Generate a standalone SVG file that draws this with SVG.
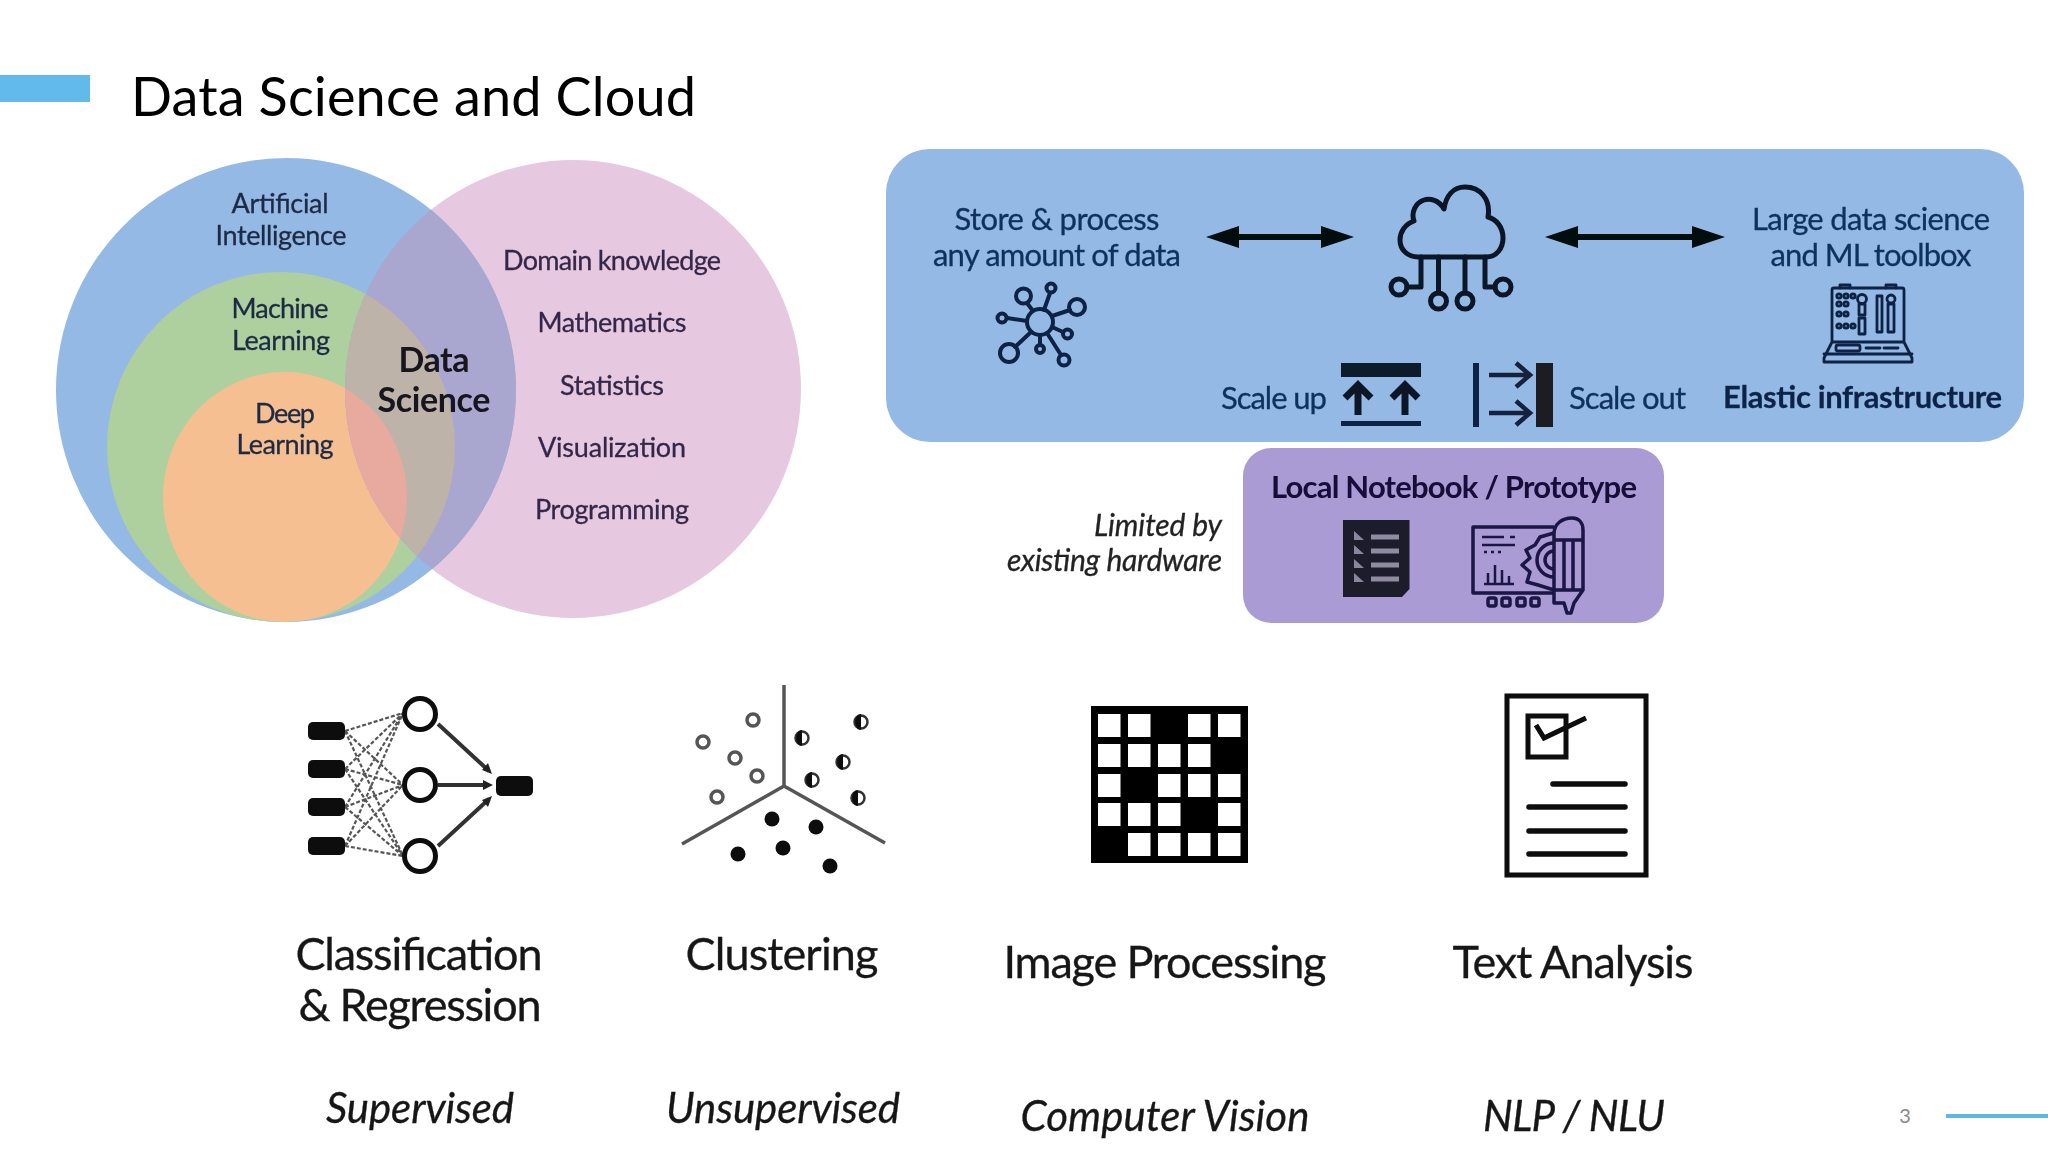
<svg xmlns="http://www.w3.org/2000/svg" width="2048" height="1152" viewBox="0 0 2048 1152">
<style>
text{font-family:"Lato","Liberation Sans",sans-serif}
.c{text-anchor:middle}
.v{font-size:27px;fill:#1c2a44;stroke:#1c2a44;stroke-width:.3px}
.vp{font-size:27px;fill:#35284a;stroke:#35284a;stroke-width:.3px}
.p{font-size:31px;fill:#11305c;stroke:#11305c;stroke-width:.3px}
.b{font-weight:700}
.l{font-size:45px;fill:#161616;stroke:#161616;stroke-width:.3px;text-anchor:middle}
.i{font-size:42px;font-style:italic;fill:#161616;stroke:#161616;stroke-width:.3px;text-anchor:middle}
.ik{fill:none;stroke:#0c2244;stroke-width:4;stroke-linecap:round;stroke-linejoin:round}
.pk{fill:none;stroke:#1a1646;stroke-width:3.500;stroke-linejoin:round}
.nn{stroke:#555;stroke-width:2.200;stroke-dasharray:4 2;fill:none}
.na{stroke:#333;stroke-width:4;fill:none}
.open{fill:#fff;stroke:#555;stroke-width:3.500}
.half{fill:#fff;stroke:#333;stroke-width:2.500}
.cell{fill:#fff}
.dl{stroke:#05070f;stroke-width:6;stroke-linecap:round;fill:none}
</style>
<defs>
<filter id="soft" x="0" y="0" width="2048" height="1152" filterUnits="userSpaceOnUse"><feGaussianBlur stdDeviation="0.650"/></filter>
<marker id="head" markerUnits="userSpaceOnUse" markerWidth="34" markerHeight="26" refX="1" refY="13" orient="auto-start-reverse"><path d="M0 2L33 13L0 24Z" fill="#05070f"/></marker>
<clipPath id="pinkClip"><ellipse cx="573" cy="389" rx="228" ry="229"/></clipPath>
<path id="half" d="M0-8A6 8 0 0 0 0 8Z" fill="#111"/>
</defs>
<rect width="2048" height="1152" fill="#fff"/>

<g id="title">
<rect x="0" y="75" width="90" height="27" fill="#62b9ec"/>
<text x="131" y="116" font-size="54" fill="#000" textLength="565">Data Science and Cloud</text>
</g>

<g id="content" filter="url(#soft)">
<g id="venn">
<ellipse cx="573" cy="389" rx="228" ry="229" fill="#e6c9e0"/>
<ellipse cx="286" cy="390" rx="230" ry="232" fill="#94b9e4"/>
<ellipse cx="281" cy="447" rx="174" ry="175" fill="#aed09e"/>
<ellipse cx="285" cy="497" rx="122" ry="125" fill="#f6bf92"/>
<g clip-path="url(#pinkClip)">
<ellipse cx="286" cy="390" rx="230" ry="232" fill="#a9a6cf"/>
<ellipse cx="281" cy="447" rx="174" ry="175" fill="#bdb3a8"/>
<ellipse cx="285" cy="497" rx="122" ry="125" fill="#e8a99e"/>
</g>
<text class="v c" x="280" y="213" textLength="97">Artificial</text>
<text class="v c" x="281" y="245" textLength="131">Intelligence</text>
<text class="v c" x="280" y="318" textLength="97">Machine</text>
<text class="v c" x="281" y="350" textLength="98">Learning</text>
<text class="v c" x="285" y="423" textLength="60">Deep</text>
<text class="v c" x="285" y="454" textLength="97">Learning</text>
<text class="c b" x="434" y="372" font-size="34" fill="#14141f" textLength="71">Data</text>
<text class="c b" x="434" y="412" font-size="34" fill="#14141f" textLength="113">Science</text>
<text class="vp c" x="612" y="270" textLength="218">Domain knowledge</text>
<text class="vp c" x="612" y="332" textLength="149">Mathematics</text>
<text class="vp c" x="612" y="395" textLength="104">Statistics</text>
<text class="vp c" x="612" y="457" textLength="148">Visualization</text>
<text class="vp c" x="612" y="519" textLength="154">Programming</text>
</g>

<g id="cloud-panel">
<rect x="886" y="149" width="1138" height="293" rx="44" fill="#94b9e4"/>
</g>

<g id="store">
<text class="p c" x="1057" y="230" textLength="205">Store &amp; process</text>
<text class="p c" x="1057" y="266" textLength="248">any amount of data</text>
<g class="ik">
<circle cx="1040" cy="322" r="13"/>
<circle cx="1023.500" cy="296" r="7.500"/><circle cx="1051" cy="288" r="4.500"/><circle cx="1077" cy="307" r="8"/>
<circle cx="1002" cy="318" r="4.500"/><circle cx="1067.500" cy="334" r="4.500"/><circle cx="1009" cy="353" r="9"/>
<circle cx="1040" cy="349" r="4"/><circle cx="1064" cy="360" r="5.500"/>
<path d="M1033 311L1027 303M1044 310L1050 293M1052 316L1070 310M1027 321L1007 318M1052 327L1063 332M1031 332L1015 347M1040 335V345M1047 333L1061 355"/>
</g>
</g>

<g id="cloud">
<g class="ik" style="stroke:#0a1628;stroke-width:5">
<path d="M1418 257H1486C1497 257 1503 248 1503 238C1503 227 1496 219 1488 217C1491 199 1480 187 1465 187C1453 187 1446 196 1444 209C1439 200 1430 198 1424 200C1415 203 1411 213 1414 221C1405 224 1400 232 1400 240C1400 250 1408 257 1418 257Z"/>
<path d="M1421 257V287H1407M1438.500 257V293M1465 257V293M1485 257V287H1495"/>
<circle cx="1399" cy="287" r="8"/><circle cx="1438.500" cy="301" r="8"/><circle cx="1465" cy="301" r="8"/><circle cx="1503" cy="287" r="8"/>
</g>
</g>

<g id="toolbox">
<text class="p c" x="1871" y="230" textLength="238">Large data science</text>
<text class="p c" x="1871" y="266" textLength="201">and ML toolbox</text>
<g class="ik" style="stroke-width:2.800">
<rect x="1832" y="288" width="72" height="54" rx="2"/>
<path d="M1840 288V285H1850V288M1886 288V285H1896V288M1832 342L1824 358V362H1912V358L1904 342M1824 354H1912"/>
<circle cx="1839" cy="296" r="2.200"/><circle cx="1846" cy="296" r="2.200"/><circle cx="1839" cy="304" r="2.200"/><circle cx="1846" cy="304" r="2.200"/>
<circle cx="1839" cy="314" r="2.200"/><circle cx="1846" cy="314" r="2.200"/><circle cx="1839" cy="326" r="2.200"/><circle cx="1846" cy="326" r="2.200"/><circle cx="1853" cy="296" r="2.200"/><circle cx="1853" cy="326" r="2.200"/>
<circle cx="1862" cy="299" r="4.500"/><rect x="1859" y="304" width="6" height="11"/><rect x="1859" y="318" width="6" height="16"/>
<rect x="1877" y="296" width="5" height="36"/><circle cx="1891" cy="299" r="4"/><rect x="1888" y="304" width="6" height="28"/>
<rect x="1836" y="345" width="24" height="6" rx="2"/><path d="M1866 348H1880M1884 348H1898"/>
</g>
</g>

<g id="scale-up">
<text class="p" x="1221" y="409" textLength="106">Scale up</text>
<rect x="1341" y="363" width="80" height="14" fill="#101a2a"/>
<rect x="1341" y="421" width="80" height="5" fill="#0c2244"/>
<path d="M1358 415V387M1345 398L1358 385L1371 398M1405 415V387M1392 398L1405 385L1418 398" fill="none" stroke="#0c1626" stroke-width="7"/>
</g>

<g id="scale-out">
<rect x="1473" y="363" width="6" height="64" fill="#0c2244"/>
<rect x="1536" y="363" width="17" height="64" fill="#1a1a22"/>
<path d="M1489 375H1529M1516 363L1530 375L1516 387M1489 413H1529M1516 401L1530 413L1516 425" fill="none" stroke="#12233c" stroke-width="4.500"/>
<text class="p" x="1569" y="409" textLength="117">Scale out</text>
</g>

<g id="elastic">
<text class="p b" x="1723" y="408" style="fill:#0b2247" textLength="279">Elastic infrastructure</text>
</g>

<g id="connectors">
<path d="M1238 237H1322" class="dl" marker-start="url(#head)" marker-end="url(#head)"/>
<path d="M1577 237H1693" class="dl" marker-start="url(#head)" marker-end="url(#head)"/>
</g>

<g id="local">
<text x="1222" y="536" font-size="30" font-style="italic" fill="#222" stroke="#222" stroke-width=".3" text-anchor="end" textLength="128">Limited by</text>
<text x="1222" y="571" font-size="30" font-style="italic" fill="#222" stroke="#222" stroke-width=".3" text-anchor="end" textLength="215">existing hardware</text>
<rect x="1243" y="448" width="421" height="175" rx="28" fill="#ab9bd4"/>
<text class="c b" x="1454" y="498" font-size="31" fill="#130a38" textLength="366">Local Notebook / Prototype</text>
<path d="M1343 520H1409.500V589L1402 597H1343Z" fill="#1d1b2a"/>
<path d="M1371 537H1399M1371 551H1399M1371 565H1399M1371 579H1399" stroke="#8f8ba0" stroke-width="5"/>
<path d="M1354 531L1364 540H1354ZM1354 545L1364 554H1354ZM1354 559L1364 568H1354ZM1354 573L1364 582H1354Z" fill="#8a86a0"/>
<g class="pk">
<path d="M1554 527H1473V593H1554"/>
<path d="M1482 537H1504M1510 537H1515M1482 545H1515" stroke-width="2.500"/>
<path d="M1484 552H1487M1491 552H1494M1498 552H1501" stroke-width="2.500"/>
<path d="M1484 584H1514M1488 584V573M1495 584V565M1502 584V570M1509 584V576" stroke-width="2.500"/>
<path d="M1554 533L1540 537L1535 545L1526 550L1530 558L1522 565L1530 572L1527 582L1538 585L1554 590"/>
<path d="M1554 543A17 17 0 0 0 1554 577M1554 551A9 9 0 0 0 1554 569"/>
<path d="M1554 603V534C1554 524 1562 518 1572 518C1580 518 1583 524 1583 530V590L1574 603L1571 613H1567L1564 603Z"/>
<path d="M1554 540H1583M1554 590H1583M1564 540V590M1573 540V590"/>
<rect x="1488" y="598" width="8" height="8" rx="2"/><rect x="1502" y="598" width="8" height="8" rx="2"/><rect x="1517" y="598" width="8" height="8" rx="2"/><rect x="1531" y="598" width="8" height="8" rx="2"/>
</g>
</g>

<g id="classification">
<path class="nn" d="M345 731L403 713M345 731L403 785M345 731L403 856M345 769L403 713M345 769L403 785M345 769L403 856M345 807L403 713M345 807L403 785M345 807L403 856M345 846L403 713M345 846L403 785M345 846L403 856"/>
<rect x="308" y="722" width="37" height="18" rx="5" fill="#0a0a0a"/>
<rect x="308" y="760" width="37" height="18" rx="5" fill="#0a0a0a"/>
<rect x="308" y="798" width="37" height="18" rx="5" fill="#0a0a0a"/>
<rect x="308" y="837" width="37" height="18" rx="5" fill="#0a0a0a"/>
<circle cx="420" cy="714" r="15.500" fill="#fff" stroke="#111" stroke-width="5"/>
<circle cx="420" cy="785" r="15.500" fill="#fff" stroke="#111" stroke-width="5"/>
<circle cx="420" cy="856" r="15.500" fill="#fff" stroke="#111" stroke-width="5"/>
<path class="na" d="M438 724L489 771M438 785H489M438 846L489 799"/>
<path d="M492 774L482 770L488 763ZM493 785L483 780V790ZM492 796L482 800L488 807Z" fill="#222"/>
<rect x="496" y="776" width="37" height="20" rx="5" fill="#0a0a0a"/>
<text class="l" x="419" y="970" textLength="247">Classification</text>
<text class="l" x="420" y="1021" textLength="243">&amp; Regression</text>
<text class="i" x="420" y="1123" textLength="188">Supervised</text>
</g>

<g id="clustering">
<path d="M784 685V786M784 786L682 844M784 786L885 843" fill="none" stroke="#555" stroke-width="3.500"/>
<circle class="open" cx="753" cy="720" r="6"/><circle class="open" cx="703" cy="742" r="6"/><circle class="open" cx="735" cy="758" r="6"/><circle class="open" cx="757" cy="776" r="6"/><circle class="open" cx="717" cy="797" r="6"/>
<g><circle class="half" cx="802" cy="738" r="6.500"/><use href="#half" x="802" y="738"/><circle class="half" cx="861" cy="722" r="6.500"/><use href="#half" x="861" y="722"/><circle class="half" cx="843" cy="762" r="6.500"/><use href="#half" x="843" y="762"/><circle class="half" cx="812" cy="780" r="6.500"/><use href="#half" x="812" y="780"/><circle class="half" cx="858" cy="798" r="6.500"/><use href="#half" x="858" y="798"/></g>
<g fill="#0a0a0a"><circle cx="772" cy="819" r="7.500"/><circle cx="816" cy="827" r="7.500"/><circle cx="783" cy="848" r="7.500"/><circle cx="738" cy="854" r="7.500"/><circle cx="830" cy="866" r="7.500"/></g>
<text class="l" x="782" y="970" textLength="193">Clustering</text>
<text class="i" x="783" y="1123" textLength="234">Unsupervised</text>
</g>

<g id="image-processing">
<rect x="1091" y="706" width="157" height="157" fill="#000"/>
<g class="cell">
<rect x="1098" y="714" width="22.500" height="23"/><rect x="1128" y="714" width="22.500" height="23"/><rect x="1188" y="714" width="22.500" height="23"/><rect x="1218" y="714" width="22.500" height="23"/>
<rect x="1098" y="744" width="22.500" height="23"/><rect x="1128" y="744" width="22.500" height="23"/><rect x="1158" y="744" width="22.500" height="23"/><rect x="1188" y="744" width="22.500" height="23"/>
<rect x="1098" y="774" width="22.500" height="23"/><rect x="1158" y="774" width="22.500" height="23"/><rect x="1188" y="774" width="22.500" height="23"/><rect x="1218" y="774" width="22.500" height="23"/>
<rect x="1098" y="803" width="22.500" height="23"/><rect x="1128" y="803" width="22.500" height="23"/><rect x="1158" y="803" width="22.500" height="23"/><rect x="1218" y="803" width="22.500" height="23"/>
<rect x="1128" y="833" width="22.500" height="23"/><rect x="1158" y="833" width="22.500" height="23"/><rect x="1188" y="833" width="22.500" height="23"/><rect x="1218" y="833" width="22.500" height="23"/>
</g>
<text class="l" x="1165" y="978" textLength="323">Image Processing</text>
<text class="i" x="1165" y="1131" textLength="289">Computer Vision</text>
</g>

<g id="text-analysis">
<rect x="1507" y="696" width="139" height="179" fill="#fff" stroke="#0a0a0a" stroke-width="5"/>
<rect x="1528" y="716" width="38" height="41" fill="none" stroke="#0a0a0a" stroke-width="5"/>
<path d="M1536 725L1544 738L1586 718" fill="none" stroke="#0a0a0a" stroke-width="5"/>
<path d="M1553 784H1625M1529 807H1625M1529 831H1625M1529 854H1625" fill="none" stroke="#0a0a0a" stroke-width="5.500" stroke-linecap="round"/>
<text class="l" x="1573" y="978" textLength="241">Text Analysis</text>
<text class="i" x="1574" y="1131" textLength="182">NLP / NLU</text>
</g>
</g>

<g id="footer">
<text x="1905" y="1123" font-size="20" fill="#888" text-anchor="middle" textLength="10">3</text>
<rect x="1946" y="1114" width="102" height="4" fill="#5fb4e8"/>
</g>
</svg>
